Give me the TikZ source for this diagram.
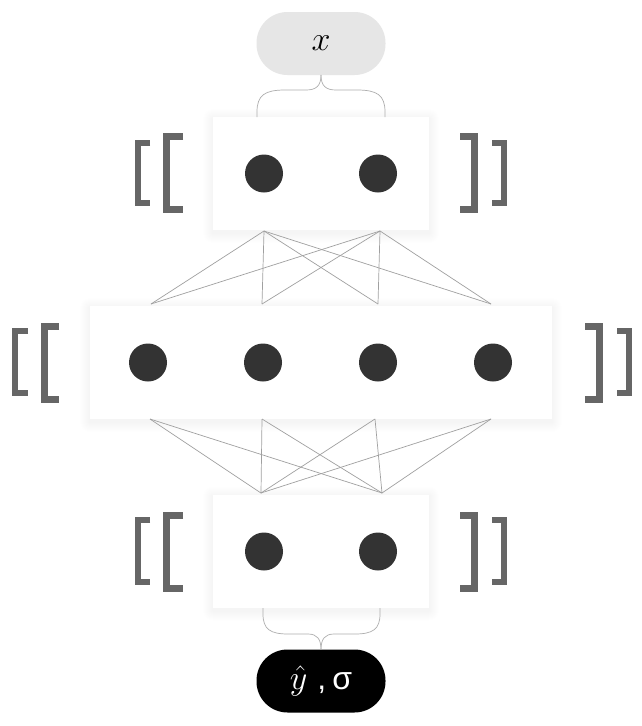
\documentclass[tikz,border=0pt]{standalone}
\usepackage{graphicx}
\usepackage{fontspec}
\newfontfamily\sansf{Liberation Sans}
\definecolor{dotgray}{HTML}{333333}
\definecolor{brgray}{HTML}{666666}
\definecolor{linegray}{HTML}{A0A0A0}
\definecolor{pillgray}{HTML}{E6E6E6}
\tikzset{
  layerbox/.style={draw=none, fill=white, outer sep=0pt, inner sep=0pt},
  neuron/.style={circle, fill=dotgray, draw=none, minimum size=38, inner sep=0pt, outer sep=0pt},
  pill/.style={rectangle, rounded corners=31pt, minimum width=129, minimum height=63, inner sep=0pt, outer sep=0pt, font=\fontsize{24.88}{30}\selectfont},
  wire/.style={draw=linegray, line width=0.7pt},
  bracelink/.style={draw=linegray!85, line width=0.7pt},
  bigbr/.style={draw=brgray, line width=7pt, miter limit=10},
  smallbr/.style={draw=brgray, line width=6pt, miter limit=10},
  softshadow/.style={fill=black, opacity=0.0045, draw=none},
}
\begin{document}
\begin{tikzpicture}[x=1pt,y=-1pt]
\useasboundingbox[fill=white] (0,0) rectangle (642,726);

% soft shadows behind layer boxes
\foreach \cx/\cy/\w in {321/173.5/216, 321/362.5/462, 321/551/216}{
  \foreach \e in {1,...,10}{
    \fill[softshadow, rounded corners=\e pt]
      (\cx-\w/2-\e, \cy-56.5-\e+2) rectangle (\cx+\w/2+\e, \cy+56.5+\e+3);
  }
}

% layer boxes
\node[layerbox, minimum width=216, minimum height=113] (L1) at (321,173.5) {};
\node[layerbox, minimum width=462, minimum height=113] (L2) at (321,362.5) {};
\node[layerbox, minimum width=216, minimum height=113] (L3) at (321,551) {};

% neurons
\node[neuron] (a1) at (264,173.5) {};
\node[neuron] (a2) at (378,173.5) {};
\node[neuron] (b1) at (148,362.5) {};
\node[neuron] (b2) at (263,362.5) {};
\node[neuron] (b3) at (378,362.5) {};
\node[neuron] (b4) at (493,362.5) {};
\node[neuron] (c1) at (264,551.5) {};
\node[neuron] (c2) at (378,551.5) {};

% ports
\coordinate (a1s) at (264,231);
\coordinate (a2s) at (380,231);
\coordinate (b1n) at (151,304);
\coordinate (b2n) at (262,304);
\coordinate (b3n) at (378,304);
\coordinate (b4n) at (491,304);
\coordinate (b1s) at (150,419);
\coordinate (b2s) at (262,419);
\coordinate (b3s) at (375,419);
\coordinate (b4s) at (491,419);
\coordinate (c1n) at (261,493);
\coordinate (c2n) at (382,493);

\foreach \s in {a1s,a2s}{
  \foreach \t in {b1n,b2n,b3n,b4n}{
    \draw[wire] (\s) -- (\t);
  }
}
\foreach \s in {b1s,b2s,b3s,b4s}{
  \foreach \t in {c1n,c2n}{
    \draw[wire] (\s) -- (\t);
  }
}

% input / output pills
\node[pill, fill=pillgray] (X) at (321,43.5) {\scalebox{1.37}{$x$}};
\node[pill, fill=black, text=white] (Y) at (321,681) {\scalebox{1.37}{$\hat{y}$}\hspace{10pt}{\sansf\fontsize{32}{36}\selectfont ,\hspace{6pt}σ}};

% braces
\coordinate (tl) at (257,117);
\coordinate (tr) at (385,117);
\draw[bracelink] (tl) -- (257,112) .. controls (257,95) and (265,90) .. (285,90)
  -- (306,90) .. controls (316,90) and (321,86) .. (X.south);
\draw[bracelink] (tr) -- (385,112) .. controls (385,95) and (377,90) .. (357,90)
  -- (336,90) .. controls (326,90) and (321,86) .. (X.south);
\coordinate (bl) at (263,608);
\coordinate (br) at (380,608);
\draw[bracelink] (bl) -- (263,614) .. controls (263,629) and (270,634) .. (288,634)
  -- (308,634) .. controls (317,634) and (321,639) .. (Y.north);
\draw[bracelink] (br) -- (380,614) .. controls (380,629) and (373,634) .. (355,634)
  -- (334,634) .. controls (325,634) and (321,639) .. (Y.north);

% brackets top
\draw[smallbr] (150,143) -- (138,143) -- (138,203) -- (150,203);
\draw[bigbr] (183,136.5) -- (166.5,136.5) -- (166.5,209.5) -- (183,209.5);
\draw[bigbr] (460,136.5) -- (474.5,136.5) -- (474.5,209.5) -- (460,209.5);
\draw[smallbr] (492,143) -- (504,143) -- (504,203) -- (492,203);
% brackets middle
\draw[smallbr] (28,331) -- (15,331) -- (15,393) -- (28,393);
\draw[bigbr] (59,326.5) -- (44.5,326.5) -- (44.5,399.5) -- (59,399.5);
\draw[bigbr] (585,326.5) -- (599.5,326.5) -- (599.5,399.5) -- (585,399.5);
\draw[smallbr] (617,331) -- (629,331) -- (629,393) -- (617,393);
% brackets bottom
\draw[smallbr] (150,520) -- (138,520) -- (138,582) -- (150,582);
\draw[bigbr] (183,515.5) -- (166.5,515.5) -- (166.5,588.5) -- (183,588.5);
\draw[bigbr] (460,515.5) -- (474.5,515.5) -- (474.5,588.5) -- (460,588.5);
\draw[smallbr] (492,520) -- (504,520) -- (504,582) -- (492,582);
\end{tikzpicture}
\end{document}
